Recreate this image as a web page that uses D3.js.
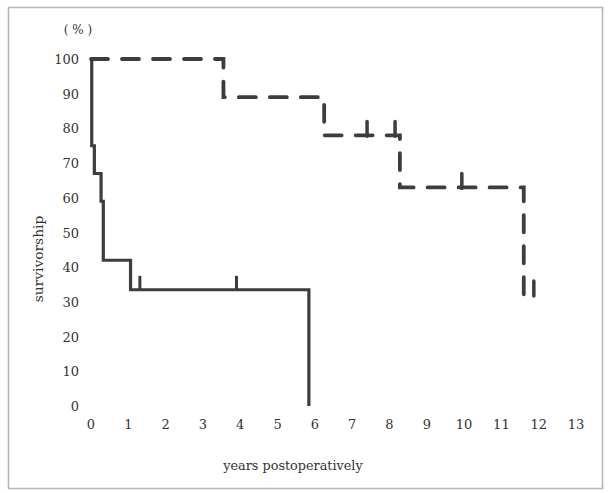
<!DOCTYPE html>
<html><head><meta charset="utf-8">
<script src="https://cdn.jsdelivr.net/npm/d3@7"></script>
<style>html,body{margin:0;padding:0;background:#fff;}text{font-family:"DejaVu Serif","Liberation Serif",serif;fill:#333;}</style>
</head><body>
<svg id="c" width="608" height="493"></svg>
<script>
// Data
const xTicks = [0,1,2,3,4,5,6,7,8,9,10,11,12,13];
const yTicks = [0,10,20,30,40,50,60,70,80,90,100];
// solid group: step survival curve (years, %)
const solidTimes = [0, 0.02, 0.09, 0.27, 0.33, 1.06, 5.84];
const solidSurv  = [100, 75, 67, 59, 42, 33.5, 0];
const solidCensorTimes = [1.31, 3.9];
const solidCensorSurv  = [33.5, 33.5];
// dashed group
const dashTimes = [0, 3.55, 6.25, 8.28, 11.6, 11.87];
const dashSurv  = [100, 89, 78, 63, 32, 32];
const dashCensorTimes = [7.4, 8.15, 9.94, 11.87];
const dashCensorSurv  = [78, 78, 63, 32];

const svg = d3.select("#c");
// frame
svg.append("rect").attr("x",8.5).attr("y",7.5).attr("width",594).attr("height",481)
  .attr("fill","none").attr("stroke","#b5b5b5").attr("stroke-width",1.5);

const x = d3.scaleLinear().domain([0,13]).range([91,576]);
const y = d3.scaleLinear().domain([0,100]).range([406,59]);

// y tick labels
svg.append("g").selectAll("text").data(yTicks).join("text")
  .attr("x",79).attr("y",d=>y(d)+5).attr("text-anchor","end")
  .attr("font-size",13).text(d=>d);
// x tick labels
svg.append("g").selectAll("text").data(xTicks).join("text")
  .attr("x",d=>x(d)).attr("y",429).attr("text-anchor","middle")
  .attr("font-size",13).text(d=>d);

svg.append("text").attr("x",78).attr("y",34).attr("text-anchor","middle").attr("font-size",12).text("( % )");
svg.append("text").attr("transform","translate(43,259) rotate(-90)").attr("text-anchor","middle")
  .attr("font-size",13.8).text("survivorship");
svg.append("text").attr("x",293).attr("y",470).attr("text-anchor","middle").attr("font-size",12.8).text("years postoperatively");

const line = d3.line().x(d=>x(d[0])).y(d=>y(d[1])).curve(d3.curveStepAfter);

const col = "#3d3d3d";
svg.append("path").datum(solidTimes.map((t,i)=>[t,solidSurv[i]]))
  .attr("d",line).attr("fill","none").attr("stroke",col).attr("stroke-width",3.2);
svg.append("g").selectAll("line").data(solidCensorTimes.map((t,i)=>[t,solidCensorSurv[i]])).join("line")
  .attr("x1",d=>x(d[0])).attr("x2",d=>x(d[0])).attr("y1",d=>y(d[1])).attr("y2",d=>y(d[1]+4))
  .attr("stroke",col).attr("stroke-width",3);

svg.append("path").datum(dashTimes.map((t,i)=>[t,dashSurv[i]]))
  .attr("d",line).attr("fill","none").attr("stroke",col).attr("stroke-width",3.8)
  .attr("stroke-dasharray","17,14").attr("stroke-linecap","round");
svg.append("g").selectAll("line").data(dashCensorTimes.map((t,i)=>[t,dashCensorSurv[i]])).join("line")
  .attr("x1",d=>x(d[0])).attr("x2",d=>x(d[0])).attr("y1",d=>y(d[1])+1).attr("y2",d=>y(d[1]+4))
  .attr("stroke",col).attr("stroke-width",3.5).attr("stroke-linecap","round");
</script>
</body></html>
